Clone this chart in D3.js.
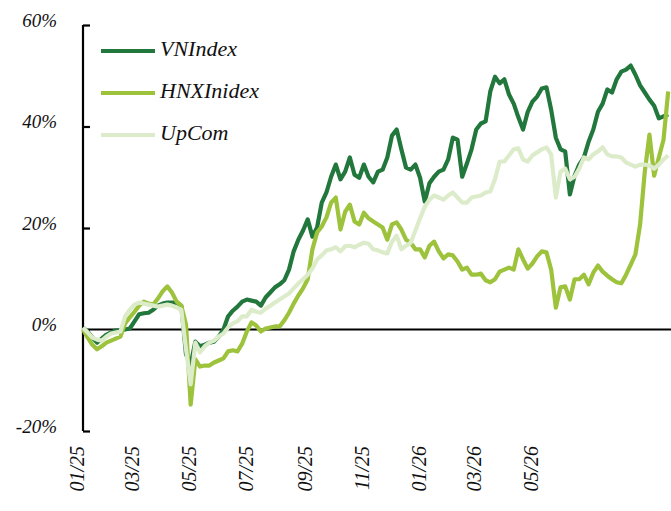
<!DOCTYPE html>
<html lang="en">
<head>
<meta charset="UTF-8">
<title>VNIndex, HNXInidex, UpCom</title>
<script src="https://cdn.jsdelivr.net/npm/d3@7"></script>
<style>
  body { margin: 0; background: #fff; }
  text { font-family: "Liberation Serif", serif; font-style: italic; fill: #111; }
</style>
</head>
<body>
<div id="chart"></div>
<script>
// one value every 5 calendar days from 1 Jan 2025 (% change)
var startDate = new Date(2025, 0, 1);
var stepDays = 5;

var vnIndex = [0.4, -0.4, -1.6, -2.6, -1.8, -1.0, -0.6, -0.2, -0.2, 0, 0.2, 1.6, 3.0, 3.2, 3.3, 3.9, 4.7, 5.1, 5.3, 5.3,
  5.3, 4.7, -4.9, -6.9, -2.4, -3.3, -3.0, -2.6, -2.4, -1.4, 0, 2.6, 3.7, 4.5, 5.5, 5.9, 5.7, 5.5, 4.7, 6.3,
  7.3, 8.3, 8.9, 9.7, 11.8, 15.4, 17.7, 19.5, 21.7, 18.3, 20.1, 25.0, 27.0, 30.1, 32.5, 29.6, 31.1, 33.9, 30.5, 29.9,
  32.5, 30.1, 29.0, 31.1, 31.5, 33.9, 38.2, 39.4, 35.5, 31.9, 31.5, 32.5, 29.9, 25.2, 28.8, 30.1, 31.1, 31.5, 33.5, 37.8,
  37.4, 30.1, 32.7, 35.5, 39.4, 40.6, 41.0, 46.9, 49.8, 48.5, 49.3, 46.3, 44.5, 41.8, 39.4, 42.9, 44.9, 45.9, 47.5, 47.7,
  43.3, 37.8, 35.5, 35.1, 26.6, 30.3, 32.5, 33.9, 37.0, 39.4, 42.9, 44.5, 47.3, 46.7, 49.3, 50.8, 51.2, 52.0, 50.2, 48.1,
  46.7, 45.3, 44.1, 41.6, 42.0, 42.4];

var hnxIndex = [0, -1.6, -3.0, -3.9, -3.3, -2.6, -2.2, -1.8, -1.4, 1.2, 2.4, 3.5, 4.7, 5.5, 5.1, 4.9, 6.1, 7.5, 8.5, 7.3,
  5.5, 4.7, 1.0, -14.8, -5.9, -7.3, -7.1, -7.1, -6.5, -6.1, -5.7, -4.3, -4.1, -4.3, -2.8, -0.4, 1.4, 0.8, -0.4, 0.2,
  0.4, 0.6, 0.6, 1.8, 3.3, 5.1, 6.7, 8.1, 9.9, 15.8, 19.1, 20.3, 22.1, 25.0, 26.0, 19.7, 23.2, 24.6, 21.3, 20.7,
  23.0, 21.9, 21.3, 20.7, 20.1, 17.7, 20.7, 21.1, 19.7, 17.7, 17.1, 15.8, 15.8, 14.2, 16.5, 17.3, 15.4, 14.0, 14.8, 14.6,
  13.4, 11.8, 12.2, 10.8, 10.8, 11.0, 9.7, 9.3, 9.9, 11.4, 11.8, 12.2, 11.8, 15.8, 13.8, 12.0, 13.0, 14.4, 15.4, 15.2,
  11.8, 4.3, 8.3, 8.5, 5.9, 9.9, 9.9, 10.8, 8.9, 11.2, 12.6, 11.4, 10.6, 9.9, 9.3, 9.1, 10.8, 12.8, 14.8, 20.7,
  31.1, 38.4, 30.3, 33.9, 37.4, 46.9];

var upCom = [0.4, -0.6, -1.6, -2.0, -2.2, -1.4, -0.8, -0.6, -0.4, 2.6, 3.9, 4.9, 5.3, 5.1, 4.9, 4.7, 4.5, 4.7, 4.9, 4.7,
  4.3, 3.9, -3.9, -10.8, -2.6, -4.5, -3.3, -2.6, -2.2, -1.4, -0.8, 0.4, 1.2, 1.6, 2.6, 2.6, 3.9, 3.5, 3.3, 4.1,
  4.7, 5.3, 5.9, 6.5, 7.1, 8.1, 9.1, 9.9, 10.8, 12.0, 13.8, 14.6, 15.6, 15.8, 16.2, 15.4, 16.4, 16.5, 16.2, 16.7,
  17.1, 16.9, 15.8, 15.6, 15.2, 15.0, 17.3, 18.5, 15.8, 16.5, 17.1, 19.5, 21.9, 24.2, 25.6, 26.4, 26.0, 25.6, 26.4, 27.0,
  26.0, 25.0, 25.0, 26.0, 26.2, 26.4, 27.0, 27.2, 29.6, 33.1, 33.1, 34.3, 35.5, 35.7, 33.5, 33.1, 34.3, 34.9, 35.5, 35.9,
  34.5, 26.0, 31.1, 31.7, 29.6, 30.1, 31.7, 33.9, 33.5, 34.5, 35.1, 35.9, 34.5, 34.1, 34.1, 33.9, 32.9, 32.5, 32.1, 32.5,
  32.5, 32.3, 31.7, 32.5, 33.5, 34.3];

var seriesNames = ["VNIndex", "HNXInidex", "UpCom"];
var seriesColors = ["#22773c", "#9dc23c", "#dcecca"];
var yTicks = [-20, 0, 20, 40, 60];
var xTicks = ["2025-01-01", "2025-03-01", "2025-05-01", "2025-07-01", "2025-09-01",
  "2025-11-01", "2026-01-01", "2026-03-01", "2026-05-01"];

var W = 671, H = 511;
var margin = {top: 25, left: 83};
var plotRight = 671, plotBottom = 431;

var svg = d3.select("#chart").append("svg")
  .attr("width", W)
  .attr("height", H);

var parse = d3.timeParse("%Y-%m-%d");
var dates = vnIndex.map(function(d, i) { return d3.timeDay.offset(startDate, i * stepDays); });

var x = d3.scaleTime()
  .domain([startDate, d3.timeDay.offset(startDate, 628)])
  .range([margin.left, plotRight]);

var y = d3.scaleLinear()
  .domain([-20, 60])
  .range([plotBottom, margin.top]);

// y axis, ticks pointing inside
var yAxis = svg.append("g")
  .attr("transform", "translate(" + margin.left + ",0)")
  .call(d3.axisRight(y).tickValues(yTicks).tickSize(7).tickFormat(""));
yAxis.select(".domain").attr("stroke", "#000").attr("stroke-width", 2.2)
  .attr("d", "M0," + y(60) + "V" + y(-20));
yAxis.selectAll(".tick line").attr("stroke", "#000").attr("stroke-width", 2.2);

svg.append("g").selectAll("text")
  .data(yTicks)
  .enter().append("text")
    .attr("x", 57)
    .attr("y", function(d) { return y(d); })
    .attr("dy", "0.1em")
    .attr("text-anchor", "end")
    .style("font-size", "19px")
    .text(function(d) { return d + "%"; });

// x labels, rotated
svg.append("g").selectAll("text")
  .data(xTicks)
  .enter().append("text")
    .attr("transform", function(d) { return "translate(" + (x(parse(d)) + 1) + ",446) rotate(-90)"; })
    .attr("text-anchor", "end")
    .style("font-size", "20px")
    .text(function(d) { return d3.timeFormat("%m/%y")(parse(d)); });

// zero line
svg.append("line")
  .attr("x1", margin.left).attr("x2", plotRight)
  .attr("y1", y(0)).attr("y2", y(0))
  .attr("stroke", "#000")
  .attr("stroke-width", 2.2);

var line = d3.line()
  .x(function(d, i) { return x(dates[i]); })
  .y(function(d) { return y(d); });

[vnIndex, hnxIndex, upCom].forEach(function(s, k) {
  svg.append("path")
    .datum(s)
    .attr("fill", "none")
    .attr("stroke", seriesColors[k])
    .attr("stroke-width", 4.2)
    .attr("stroke-linejoin", "round")
    .attr("d", line);
});

// legend
var legend = svg.append("g");
seriesNames.forEach(function(name, k) {
  var ly = 51 + k * 42;
  legend.append("line")
    .attr("x1", 101).attr("x2", 155)
    .attr("y1", ly).attr("y2", ly)
    .attr("stroke", seriesColors[k])
    .attr("stroke-width", 4.2);
  legend.append("text")
    .attr("x", 160)
    .attr("y", ly + 5)
    .style("font-size", "22px")
    .text(name);
});
</script>
</body>
</html>
